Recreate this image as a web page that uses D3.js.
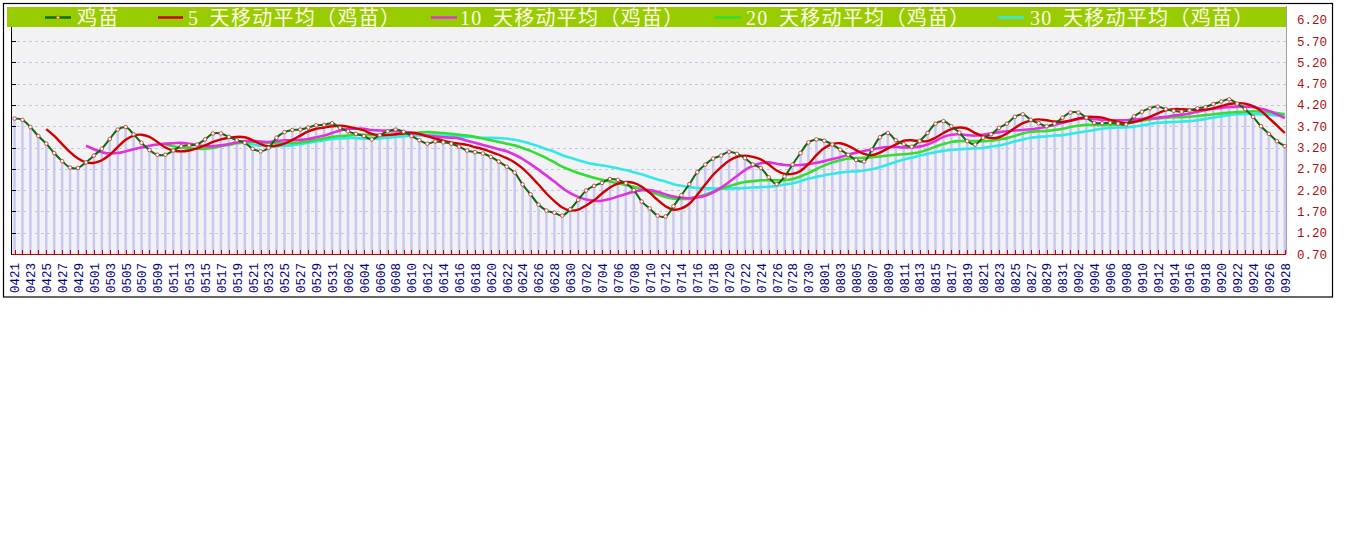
<!DOCTYPE html>
<html><head><meta charset="utf-8">
<script src="https://cdn.jsdelivr.net/npm/d3@7"></script>
<style>body{margin:0;background:#fff}svg{display:block}</style>
</head><body>
<svg id="c" width="1345" height="541"></svg>
<script>
const dates = [
"0421","0422","0423","0424","0425","0426","0427","0428","0429","0430",
"0501","0502","0503","0504","0505","0506","0507","0508","0509","0510","0511","0512","0513","0514","0515","0516","0517","0518","0519","0520","0521","0522","0523","0524","0525","0526","0527","0528","0529","0530","0531",
"0601","0602","0603","0604","0605","0606","0607","0608","0609","0610","0611","0612","0613","0614","0615","0616","0617","0618","0619","0620","0621","0622","0623","0624","0625","0626","0627","0628","0629","0630",
"0701","0702","0703","0704","0705","0706","0707","0708","0709","0710","0711","0712","0713","0714","0715","0716","0717","0718","0719","0720","0721","0722","0723","0724","0725","0726","0727","0728","0729","0730","0731",
"0801","0802","0803","0804","0805","0806","0807","0808","0809","0810","0811","0812","0813","0814","0815","0816","0817","0818","0819","0820","0821","0822","0823","0824","0825","0826","0827","0828","0829","0830","0831",
"0901","0902","0903","0904","0905","0906","0907","0908","0909","0910","0911","0912","0913","0914","0915","0916","0917","0918","0919","0920","0921","0922","0923","0924","0925","0926","0927","0928"];

const price = [
3.88,3.85,3.68,3.47,3.29,3.07,2.88,2.73,2.72,2.85,
3.01,3.17,3.40,3.62,3.68,3.51,3.31,3.14,3.03,3.03,
3.13,3.23,3.25,3.27,3.39,3.53,3.53,3.45,3.37,3.31,
3.17,3.11,3.19,3.43,3.56,3.61,3.62,3.67,3.72,3.73,
3.77,3.66,3.58,3.52,3.47,3.39,3.49,3.58,3.62,3.57,
3.47,3.37,3.29,3.34,3.32,3.29,3.22,3.13,3.09,3.06,
2.98,2.87,2.75,2.61,2.33,2.10,1.86,1.72,1.67,1.60,
1.75,1.97,2.19,2.30,2.37,2.46,2.44,2.36,2.20,1.93,
1.77,1.60,1.58,1.82,2.08,2.34,2.62,2.80,2.94,3.01,
3.10,3.05,2.95,2.80,2.72,2.50,2.34,2.52,2.80,3.07,
3.32,3.39,3.36,3.27,3.15,3.03,2.91,2.87,3.15,3.44,
3.54,3.37,3.28,3.22,3.35,3.54,3.76,3.82,3.70,3.55,
3.35,3.27,3.43,3.51,3.66,3.76,3.92,3.98,3.85,3.77,
3.70,3.76,3.90,4.02,4.02,3.90,3.78,3.77,3.78,3.76,
3.74,3.93,4.04,4.12,4.16,4.10,4.06,4.04,4.07,4.12,
4.15,4.22,4.28,4.33,4.23,4.10,3.92,3.70,3.52,3.35,
3.23];

const ma5 = [null,null,null,null,
3.63,3.47,3.28,3.09,2.94,2.85,
2.84,2.90,3.03,3.21,3.38,3.48,3.50,3.45,3.33,3.20,
3.13,3.11,3.13,3.18,3.25,3.33,3.39,3.43,3.45,3.44,
3.37,3.28,3.23,3.24,3.29,3.38,3.48,3.58,3.64,3.67,
3.70,3.71,3.69,3.65,3.60,3.52,3.49,3.49,3.51,3.53,
3.55,3.52,3.46,3.41,3.36,3.32,3.29,3.26,3.21,3.16,
3.10,3.03,2.95,2.85,2.71,2.53,2.33,2.12,1.94,1.79,
1.72,1.74,1.84,1.96,2.12,2.26,2.35,2.39,2.37,2.28,
2.14,1.97,1.82,1.74,1.77,1.88,2.09,2.33,2.56,2.74,
2.89,2.98,3.01,2.98,2.92,2.80,2.66,2.58,2.58,2.65,
2.81,3.02,3.19,3.28,3.30,3.24,3.14,3.05,3.02,3.08,
3.18,3.27,3.36,3.37,3.35,3.35,3.43,3.54,3.63,3.67,
3.64,3.54,3.46,3.42,3.44,3.53,3.66,3.77,3.83,3.86,
3.84,3.81,3.80,3.83,3.88,3.92,3.92,3.90,3.85,3.80,
3.77,3.80,3.85,3.92,4.00,4.07,4.10,4.10,4.09,4.08,
4.09,4.12,4.17,4.22,4.24,4.23,4.17,4.06,3.89,3.72,
3.54];

const ma10 = [null,null,null,null,null,null,null,null,null,
3.24,
3.16,3.09,3.06,3.07,3.11,3.16,3.20,3.24,3.27,3.29,
3.30,3.31,3.29,3.26,3.23,3.23,3.25,3.28,3.32,3.35,
3.35,3.34,3.33,3.35,3.37,3.37,3.38,3.40,3.44,3.48,
3.54,3.60,3.64,3.64,3.64,3.61,3.60,3.59,3.58,3.57,
3.54,3.51,3.48,3.46,3.44,3.43,3.41,3.36,3.31,3.26,
3.21,3.16,3.11,3.03,2.93,2.81,2.68,2.54,2.40,2.25,
2.13,2.04,1.98,1.95,1.95,1.99,2.05,2.11,2.16,2.20,
2.20,2.16,2.10,2.05,2.02,2.01,2.03,2.07,2.15,2.26,
2.39,2.53,2.67,2.77,2.83,2.85,2.82,2.79,2.78,2.79,
2.81,2.84,2.88,2.93,2.97,3.03,3.08,3.12,3.15,3.19,
3.21,3.21,3.20,3.20,3.22,3.27,3.35,3.45,3.50,3.51,
3.49,3.48,3.50,3.53,3.56,3.58,3.60,3.61,3.63,3.65,
3.69,3.73,3.78,3.83,3.87,3.88,3.87,3.85,3.84,3.84,
3.84,3.86,3.87,3.88,3.90,3.92,3.95,3.97,4.00,4.04,
4.08,4.11,4.13,4.15,4.16,4.16,4.15,4.11,4.06,3.98,
3.89];

const ma20 = [null,null,null,null,null,null,null,null,null,null,
null,null,null,null,null,null,null,null,null,
3.27,
3.23,3.20,3.18,3.17,3.17,3.19,3.23,3.26,3.30,3.32,
3.33,3.32,3.31,3.30,3.30,3.30,3.32,3.34,3.38,3.41,
3.45,3.47,3.48,3.50,3.50,3.49,3.49,3.50,3.51,3.52,
3.54,3.55,3.56,3.55,3.54,3.52,3.50,3.48,3.45,3.41,
3.37,3.33,3.29,3.25,3.19,3.12,3.04,2.95,2.85,2.75,
2.67,2.60,2.54,2.49,2.44,2.40,2.36,2.32,2.28,2.22,
2.16,2.10,2.04,2.00,1.99,2.00,2.04,2.09,2.16,2.23,
2.29,2.35,2.39,2.41,2.43,2.43,2.43,2.43,2.46,2.52,
2.60,2.69,2.78,2.85,2.90,2.94,2.95,2.96,2.97,2.99,
3.01,3.03,3.04,3.06,3.09,3.15,3.22,3.28,3.33,3.35,
3.35,3.35,3.35,3.36,3.39,3.42,3.47,3.53,3.57,3.58,
3.59,3.61,3.64,3.68,3.71,3.73,3.73,3.73,3.73,3.74,
3.76,3.80,3.83,3.86,3.88,3.90,3.91,3.91,3.92,3.94,
3.96,3.98,4.00,4.02,4.03,4.04,4.05,4.04,4.03,4.01,
3.98];

const ma30 = [null,null,null,null,null,null,null,null,null,null,
null,null,null,null,null,null,null,null,null,null,
null,null,null,null,null,null,null,null,null,
3.29,
3.27,3.24,3.23,3.23,3.24,3.25,3.28,3.31,3.34,3.37,
3.40,3.41,3.42,3.42,3.41,3.41,3.41,3.43,3.45,3.46,
3.48,3.48,3.48,3.48,3.48,3.47,3.46,3.45,3.44,3.43,
3.43,3.42,3.41,3.38,3.34,3.29,3.23,3.16,3.10,3.02,
2.96,2.90,2.85,2.81,2.78,2.75,2.71,2.67,2.62,2.57,
2.51,2.45,2.40,2.34,2.30,2.27,2.25,2.24,2.24,2.23,
2.24,2.24,2.25,2.26,2.27,2.28,2.30,2.33,2.36,2.41,
2.47,2.51,2.55,2.58,2.61,2.63,2.64,2.66,2.69,2.74,
2.80,2.86,2.92,2.96,3.01,3.05,3.09,3.12,3.14,3.16,
3.17,3.18,3.19,3.22,3.25,3.29,3.34,3.39,3.43,3.45,
3.46,3.48,3.49,3.52,3.55,3.58,3.61,3.64,3.66,3.67,
3.67,3.69,3.72,3.75,3.78,3.79,3.80,3.81,3.82,3.84,
3.87,3.90,3.93,3.96,3.98,3.99,3.99,3.98,3.97,3.95,
3.94];

const seriesNames = ["鸡苗","5 天移动平均（鸡苗）","10 天移动平均（鸡苗）","20 天移动平均（鸡苗）","30 天移动平均（鸡苗）"];
const yTicks = [0.70,1.20,1.70,2.20,2.70,3.20,3.70,4.20,4.70,5.20,5.70,6.20];

const svg = d3.select("#c");
const x = d3.scalePoint().domain(dates).range([14.5, 1284.8]);
const y = d3.scaleLinear().domain([0.7, 6.2]).range([254, 19.7]);
const left = 11, right = 1286, bottom = 254;

// outer frame
svg.append("rect").attr("x",3.5).attr("y",3.5).attr("width",1329).attr("height",293.5)
  .attr("fill","#fff").attr("stroke","#000").attr("stroke-width",1.2);
// plot background (paper)
svg.append("rect").attr("x",left).attr("y",7).attr("width",right-left).attr("height",bottom-7)
  .attr("fill","#f2f1f3");
// right gray frame line
svg.append("line").attr("x1",right+0.5).attr("x2",right+0.5).attr("y1",6).attr("y2",bottom)
  .attr("stroke","#a0a0a0");

// grid lines
svg.append("g").selectAll("line").data(yTicks.filter(v => v > 0.71)).join("line")
  .attr("x1",left).attr("x2",right).attr("y1",d=>Math.round(y(d))+0.5).attr("y2",d=>Math.round(y(d))+0.5)
  .attr("stroke","#c4c4e4").attr("stroke-dasharray","3,3");

// bars
svg.append("g").selectAll("rect").data(price).join("rect")
  .attr("x",(d,i)=>x(dates[i])-1.25).attr("width",2.5)
  .attr("y",d=>y(d)).attr("height",d=>bottom-y(d))
  .attr("fill","#c8c8f2");

// bottom red baseline with ticks
svg.append("line").attr("x1",left).attr("x2",right).attr("y1",bottom+0.5).attr("y2",bottom+0.5)
  .attr("stroke","#c00000");
svg.append("g").selectAll("line").data(dates).join("line")
  .attr("x1",d=>Math.round(x(d))+0.5).attr("x2",d=>Math.round(x(d))+0.5)
  .attr("y1",bottom-4).attr("y2",bottom).attr("stroke","#c00000");

// left axis
svg.append("line").attr("x1",left+0.5).attr("x2",left+0.5).attr("y1",27).attr("y2",bottom+1)
  .attr("stroke","#000");
svg.append("g").selectAll("line").data(yTicks.filter(v => v > 0.71 && v < 6)).join("line")
  .attr("x1",left).attr("x2",left+5).attr("y1",d=>Math.round(y(d))+0.5).attr("y2",d=>Math.round(y(d))+0.5)
  .attr("stroke","#000");

// lines
const curve = d3.curveCatmullRom.alpha(0.5);
const mk = arr => d3.line().defined(d=>d!=null).x((d,i)=>x(dates[i])).y(d=>y(d)).curve(curve)(arr);
const lineSpecs = [
  {data: ma30, color:"#33e8e8", w:2.6},
  {data: ma20, color:"#33dd33", w:2.6},
  {data: ma10, color:"#e030e0", w:2.6},
  {data: ma5,  color:"#d00000", w:2.4},
  {data: price, color:"#0b6b0b", w:2}
];
lineSpecs.forEach(s => {
  svg.append("path").attr("d", mk(s.data)).attr("fill","none")
    .attr("stroke", s.color).attr("stroke-width", s.w).attr("stroke-linejoin","round");
});
// markers
svg.append("g").selectAll("circle").data(price).join("circle")
  .attr("cx",(d,i)=>x(dates[i])).attr("cy",d=>y(d)).attr("r",1.8)
  .attr("fill","#fff").attr("stroke","#c84040").attr("stroke-width",0.9);

// legend bar
svg.append("rect").attr("x",7).attr("y",7).attr("width",right-7).attr("height",20).attr("fill","#99cc00");
const legendColors = ["#0b6b0b","#d00000","#e030e0","#33dd33","#33e8e8"];
const legendSw = [[45,71],[158,183],[431,457],[715,741],[998,1024]];
const legendTx = [77,188,460,746,1030];
const lg = svg.append("g");
seriesNames.forEach((n,k) => {
  lg.append("line").attr("x1",legendSw[k][0]).attr("x2",legendSw[k][1]).attr("y1",17.5).attr("y2",17.5)
    .attr("stroke",legendColors[k]).attr("stroke-width",2.5);
  lg.append("text").attr("x",legendTx[k]).attr("y",25).text(n)
    .attr("font-family","'Liberation Serif','Noto Sans CJK SC',serif").attr("font-size",20)
    .attr("letter-spacing",1.3).attr("word-spacing",4)
    .attr("fill","#fbfbe2");
});
lg.append("circle").attr("cx",58).attr("cy",17.5).attr("r",1.6).attr("fill","#ffee33").attr("stroke","#c84040").attr("stroke-width",0.6);

// right axis
const ya = svg.append("g").attr("transform",`translate(${right+6},0)`)
  .call(d3.axisRight(y).tickValues(yTicks).tickFormat(d3.format(".2f")).tickSize(0).tickPadding(5));
ya.select(".domain").remove();
ya.selectAll("text").attr("font-family","'Liberation Mono','DejaVu Sans Mono',monospace")
  .attr("font-size",12.5).attr("fill","#aa1010");

// bottom axis (every other day)
const xa = svg.append("g").attr("transform",`translate(0,262)`)
  .call(d3.axisBottom(x).tickValues(dates.filter((d,i)=>i%2===0)).tickSize(0));
xa.select(".domain").remove();
xa.selectAll("text").attr("transform","rotate(-90)").attr("x",-1).attr("y",0).attr("dy","0.35em")
  .attr("text-anchor","end")
  .attr("font-family","'Liberation Mono','DejaVu Sans Mono',monospace")
  .attr("font-size",12.5).attr("fill","#000080");
</script>
</body></html>
